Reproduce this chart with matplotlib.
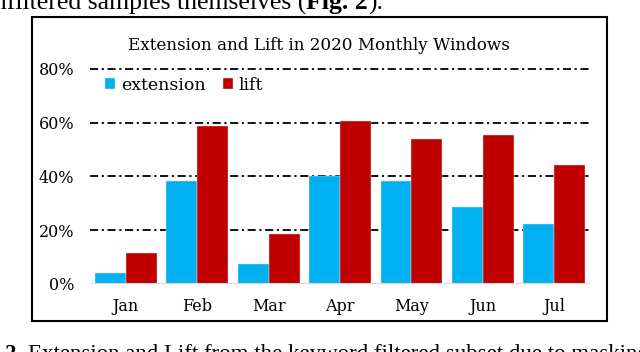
import numpy as np
import matplotlib
matplotlib.use('Agg')
import matplotlib.pyplot as plt
from matplotlib.patches import Rectangle

# values (percent)
months = ['Jan', 'Feb', 'Mar', 'Apr', 'May', 'Jun', 'Jul']
extension = [4.2, 38.4, 7.3, 40.0, 38.4, 28.7, 22.5]
lift = [11.7, 58.8, 18.5, 60.8, 54.0, 55.5, 44.4]
y_ticks = [0, 20, 40, 60, 80]

W, H = 640, 352
blue = '#00B0F0'
red = '#C00000'
serif = 'DejaVu Serif'

fig = plt.figure(figsize=(W / 100, H / 100), dpi=100)
ax = fig.add_axes([90 / W, 1 - 284 / H, 500 / W, 215 / H])

x = np.arange(len(months))
bw = 0.433
ax.bar(x - bw / 2, extension, bw, color=blue, label='extension', zorder=3,
       edgecolor='#e6e6e6', linewidth=0.3)
ax.bar(x + bw / 2, lift, bw, color=red, label='lift', zorder=3,
       edgecolor='#e6e6e6', linewidth=0.3)

ax.set_xlim(-0.5, len(months) - 0.5)
ax.set_ylim(0, 80)
ax.set_yticks(y_ticks)
ax.set_yticklabels([f'{v}%' for v in y_ticks], fontfamily=serif, fontsize=11.5)
ax.set_xticks(x)
ax.set_xticklabels(months, fontfamily=serif, fontsize=11.5)
ax.tick_params(axis='y', length=0, pad=11.5)
ax.tick_params(axis='x', length=0, pad=10)

# dash-dot grid lines behind bars
for v in y_ticks[1:]:
    ax.axhline(v, color='black', linewidth=1.3, linestyle=(0, (4.5, 2.0, 1.2, 2.0)),
               zorder=1, clip_on=False)
for s in ax.spines.values():
    s.set_visible(False)
ax.axhline(0, color='#d9d9d9', linewidth=1.5, zorder=4)

fig.text(319 / W, 1 - 50 / H, 'Extension and Lift in 2020 Monthly Windows',
         ha='center', va='baseline', fontfamily=serif, fontsize=12.1)

fig.legend(loc='center left', bbox_to_anchor=(105 / W, 1 - 85 / H), ncol=2,
           frameon=False, borderpad=0, borderaxespad=0, handlelength=0.6,
           handleheight=0.6, handletextpad=0.3, columnspacing=1.0,
           prop={'family': serif, 'size': 12.5})

# frame around the chart
fig.patches.append(Rectangle((31.5 / W, 1 - 320.7 / H), 575.3 / W, 303.4 / H,
                             transform=fig.transFigure, fill=False,
                             edgecolor='black', linewidth=1.5))

# surrounding paper text, cut by the image edges
r = fig.canvas.get_renderer()
t1 = fig.text(306 / W, 1 - 9.3 / H, 'unfiltered samples themselves (', ha='right',
              va='baseline', fontfamily='Liberation Serif', fontsize=18.5)
t2 = fig.text(306 / W, 1 - 9.3 / H, 'Fig. 2', ha='left', va='baseline',
              fontfamily='Liberation Serif', fontsize=18.5, fontweight='bold')
bb = t2.get_window_extent(r)
fig.text(bb.x1 / W, 1 - 9.3 / H, ').', ha='left', va='baseline',
         fontfamily='Liberation Serif', fontsize=18.5)

fig.text(5 / W, 1 - 360 / H, '2.', ha='left', va='baseline',
         fontfamily='Liberation Serif', fontsize=16.5, fontweight='bold')
fig.text(28 / W, 1 - 360 / H, 'Extension and Lift from the keyword filtered subset due to masking',
         ha='left', va='baseline', fontfamily='Liberation Serif', fontsize=16.5)

fig.savefig('out.png', dpi=100)
